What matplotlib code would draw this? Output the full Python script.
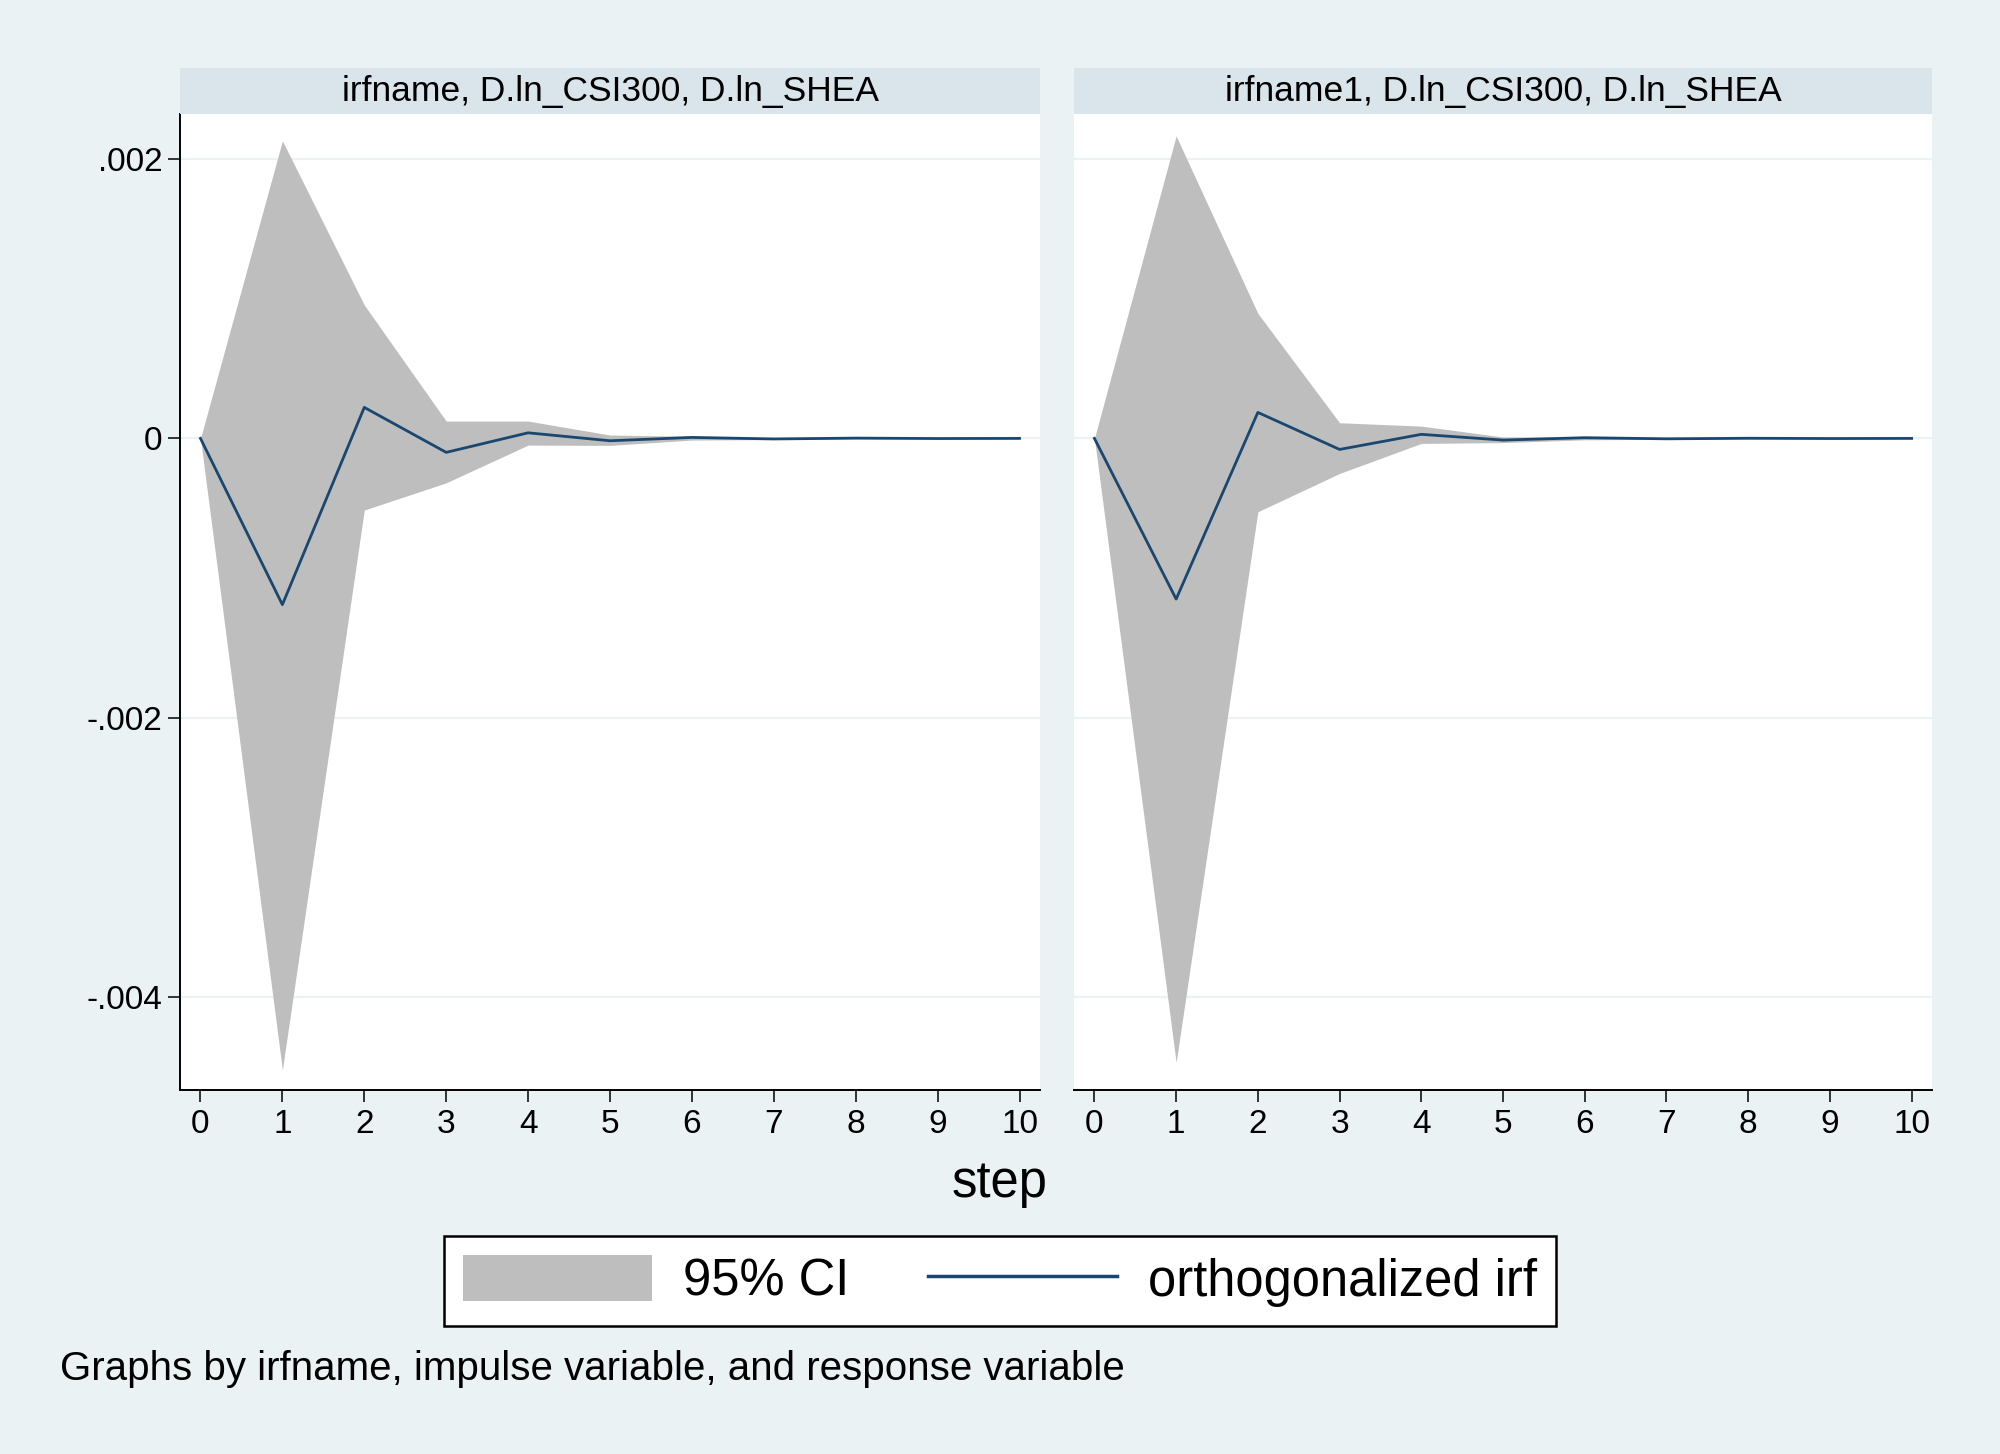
import matplotlib
matplotlib.use("Agg")
import matplotlib.pyplot as plt
from matplotlib.patches import Patch
from matplotlib.lines import Line2D

# impulse response data
steps = [0, 1, 2, 3, 4, 5, 6, 7, 8, 9, 10]

irf_left = [0, -0.00119, 0.000222, -0.0001, 0.00004, -0.000017, 0.000007, -0.000004, 0.000002, -0.000001, 0.0]
upper_left = [0, 0.00213, 0.000955, 0.000124, 0.000124, 0.000024, 0.000015, 0.000005, 0.000003, 0.000001, 0.0000005]
lower_left = [0, -0.00452, -0.000513, -0.000318, -0.000048, -0.00005, -0.000012, -0.000008, -0.000002, -0.000001, -0.0000005]

irf_right = [0, -0.00115, 0.000186, -0.000079, 0.000029, -0.000012, 0.000005, -0.000003, 0.000001, -0.000001, 0.0]
upper_right = [0, 0.002165, 0.000895, 0.000112, 0.000088, 0.00001, 0.00001, 0.000004, 0.000002, 0.000001, 0.0000005]
lower_right = [0, -0.004466, -0.000525, -0.000251, -0.000036, -0.00003, -0.00001, -0.000006, -0.000002, -0.000001, -0.0000005]

titles = ["irfname, D.ln_CSI300, D.ln_SHEA", "irfname1, D.ln_CSI300, D.ln_SHEA"]
ytick_vals = [-0.004, -0.002, 0, 0.002]
ytick_labels = ["-.004", "-.002", "0", ".002"]

BG = "#eaf2f3"
STRIP = "#d9e5eb"
CI_GRAY = "#bebebe"
NAVY = "#1a476f"

plt.rcParams["font.family"] = ["Liberation Sans", "DejaVu Sans"]

W, H = 2000, 1454
fig = plt.figure(figsize=(W / 100, H / 100), dpi=100, facecolor=BG)

panels = [
    (180, 1040, irf_left, upper_left, lower_left),
    (1074, 1932, irf_right, upper_right, lower_right),
]
top_px, bottom_px, strip_top = 114, 1090, 68

for i, (x0, x1, irf, up, lo) in enumerate(panels):
    ax = fig.add_axes([x0 / W, 1 - bottom_px / H, (x1 - x0) / W, (bottom_px - top_px) / H])
    ax.set_facecolor("white")
    ax.fill_between(steps, lo, up, color=CI_GRAY, lw=0, zorder=2)
    ax.plot(steps, irf, color=NAVY, lw=2.0, zorder=3)
    ax.set_xlim(-0.25, 10.25)
    ax.set_ylim(-0.004664, 0.002322)
    ax.set_xticks(steps)
    ax.set_yticks(ytick_vals)
    for y in ytick_vals:
        ax.axhline(y, color=BG, lw=1.6, zorder=1)
    for s in ["top", "right"]:
        ax.spines[s].set_visible(False)
    ax.spines["bottom"].set_linewidth(1.4)
    ax.tick_params(axis="x", direction="out", length=8.5, width=1.1, pad=5, labelsize=24)
    if i == 0:
        ax.set_yticklabels(ytick_labels)
        ax.spines["left"].set_linewidth(1.4)
        ax.tick_params(axis="y", direction="out", length=8.5, width=1.1, pad=4, labelsize=24)
    else:
        ax.spines["left"].set_visible(False)
        ax.tick_params(axis="y", length=0, labelleft=False)

    # strip title box
    sax = fig.add_axes([x0 / W, 1 - top_px / H, (x1 - x0) / W, (top_px - strip_top) / H])
    sax.set_facecolor(STRIP)
    sax.set_xticks([])
    sax.set_yticks([])
    for s in sax.spines.values():
        s.set_visible(False)
    sax.text(0.5, 0.48, titles[i], ha="center", va="center", fontsize=25.5, transform=sax.transAxes)

fig.text(0.5, 1 - 1184 / H, "step", ha="center", va="center", fontsize=36.5)

handles = [Patch(facecolor=CI_GRAY, edgecolor="none"), Line2D([], [], color=NAVY, lw=2.5)]
leg = fig.legend(handles, ["95% CI", "orthogonalized irf"], loc="center",
                 bbox_to_anchor=(0.5, 1 - 1281 / H), ncol=2, fontsize=36.5,
                 frameon=True, fancybox=False, framealpha=1, edgecolor="black",
                 handlelength=3.73, handleheight=1.0, handletextpad=0.6,
                 columnspacing=1.56, borderpad=0.38)
leg.get_frame().set_linewidth(1.8)
leg.get_frame().set_facecolor("white")

fig.text(60 / W, 1 - 1369 / H, "Graphs by irfname, impulse variable, and response variable",
         ha="left", va="center", fontsize=29)

fig.savefig("out.png", dpi=100, facecolor=BG)
